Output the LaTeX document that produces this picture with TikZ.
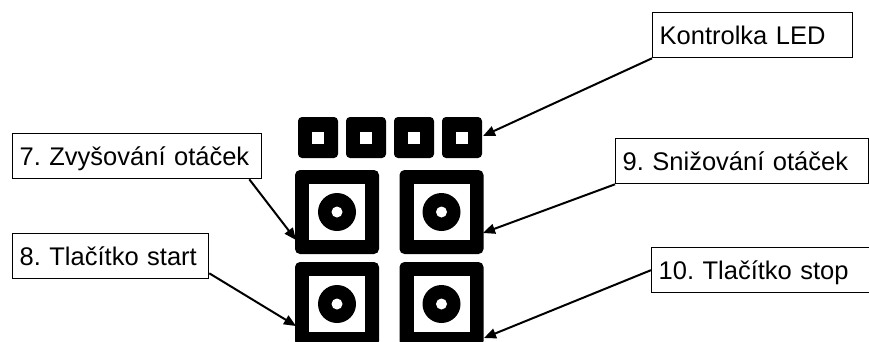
\documentclass[tikz,border=0pt]{standalone}
\usepackage{fontspec}
\setmainfont{Liberation Sans}
\usetikzlibrary{arrows.meta}
\frenchspacing
\begin{document}
\begin{tikzpicture}[x=1pt,y=-1pt,
  lbl/.style={draw,line width=1.3pt,fill=white,anchor=north west,
    minimum height=45pt,inner xsep=7pt,inner ysep=0pt,
    text height=18pt,text depth=0pt,align=left,
    font=\fontsize{25.5}{30}\selectfont\frenchspacing},
  ptr/.style={line width=2pt,-{Triangle[length=12pt,width=10pt]}},
  framebox/.style={fill=black,rounded corners=5pt},
  ledbox/.style={fill=black,rounded corners=4pt},
  hole/.style={fill=white}]
\useasboundingbox (0,0) rectangle (869,341);
% LEDs
\foreach \lx in {298,346,394,442}{
  \fill[ledbox] (\lx,117) rectangle (\lx+40,158);
  \fill[hole] (\lx+14,131.5) rectangle (\lx+26,143.5);
}
% buttons
\foreach \cx/\cy in {337/212,441.5/212,337/304,441.5/304}{
  \fill[framebox] (\cx-42,\cy-42) rectangle (\cx+42,\cy+42);
  \fill[hole] (\cx-28,\cy-28) rectangle (\cx+28,\cy+28);
  \fill (\cx,\cy) circle[radius=19pt];
  \fill[hole] (\cx,\cy) circle[radius=5.5pt];
}
% targets
\coordinate (tled) at (483,136);
\coordinate (t7) at (296,240);
\coordinate (t8) at (296,326);
\coordinate (t9) at (483,233);
\coordinate (t10) at (484,338);
% labels
\node[lbl,text width=186pt] (zled) at (652,12) {Kontrolka LED};
\node[lbl,text width=235pt] (z7) at (12,133) {7. Zvyšování otáček};
\node[lbl,text width=182pt] (z8) at (12,233) {8. Tlačítko start};
\node[lbl,text width=239pt] (z9) at (615,138) {9. Snižování otáček};
\node[lbl,text width=204pt] (z10) at (651,247) {10. Tlačítko stop};
% arrows
\draw[ptr] (zled.south west) -- (tled);
\draw[ptr] ([xshift=-13pt]z7.south east) -- (t7);
\draw[ptr] ([yshift=6pt]z8.south east) -- (t8);
\draw[ptr] (z9.south west) -- (t9);
\draw[ptr] (z10.west) -- (t10);
\end{tikzpicture}
\end{document}
